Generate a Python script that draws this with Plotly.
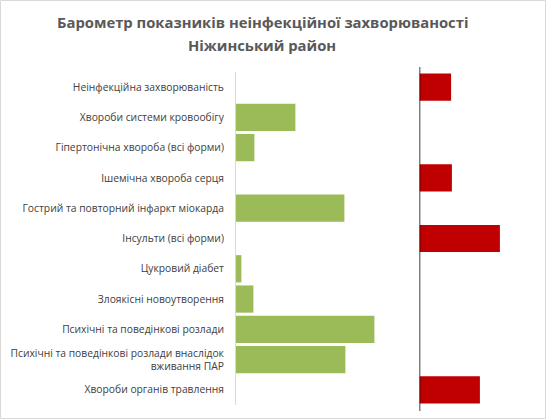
import plotly.graph_objects as go

categories = [
    "Неінфекційна захворюваність",
    "Хвороби системи кровообігу",
    "Гіпертонічна хвороба (всі форми)",
    "Ішемічна хвороба серця",
    "Гострий та повторний інфаркт міокарда",
    "Інсульти (всі форми)",
    "Цукровий діабет",
    "Злоякісні новоутворення",
    "Психічні та поведінкові розлади",
    "Психічні та поведінкові розлади внаслідок<br>вживання ПАР",
    "Хвороби органів травлення",
]
# green: below the regional level, red: above it
below_values = [None, 29.7, 9.2, None, 54.2, None, 2.7, 8.7, 69.2, 54.7, None]
above_values = [15.8, None, None, 16.2, None, 40.2, None, None, None, None, 30.2]
title_lines = ["Барометр показників неінфекційної захворюваності", "Ніжинський район"]

W, H = 546, 419
ML, MR, MT, MB = 236, 6, 72, 14
plot_w = W - ML - MR
plot_h = H - MT - MB
split = (419.5 - ML) / plot_w


def paper_y(py):
    # pixel row from the top of the page -> paper coordinate
    return (H - MB - py) / plot_h


fig = go.Figure()
fig.add_trace(go.Bar(
    y=categories, x=below_values, orientation="h",
    marker=dict(color="#9BBB59", line_width=0),
    xaxis="x", yaxis="y", showlegend=False, hoverinfo="skip",
))
fig.add_trace(go.Bar(
    y=categories, x=above_values, orientation="h",
    marker=dict(color="#C00000", line_width=0),
    xaxis="x2", yaxis="y", showlegend=False, hoverinfo="skip",
))

fig.update_layout(
    width=W, height=H,
    margin=dict(l=ML, r=MR, t=MT, b=MB),
    paper_bgcolor="white", plot_bgcolor="white",
    bargap=0.1,
    font=dict(family="Open Sans", color="#404040"),
    xaxis=dict(domain=[0, split], range=[0, plot_w * split / 2], visible=False),
    xaxis2=dict(domain=[split, 1], range=[0, plot_w * (1 - split) / 2], visible=False),
    yaxis=dict(
        autorange="reversed", showgrid=False, zeroline=False,
        showline=True, linecolor="#D9D9D9", linewidth=1,
        ticks="", ticklabelstandoff=9,
        tickfont=dict(family="Open Sans", size=10.3, color="#404040"),
    ),
)

for line, py in zip(title_lines, [22, 45]):
    fig.add_annotation(
        text=f"<b>{line}</b>", xref="paper", yref="paper",
        x=(262 - ML) / plot_w, y=paper_y(py),
        xanchor="center", yanchor="middle", showarrow=False,
        font=dict(family="Open Sans", size=14.8, color="#595959"),
    )

# vertical reference line at the zero of the right panel
fig.add_shape(
    type="line", xref="x2", yref="paper",
    x0=0, x1=0, y0=paper_y(411), y1=paper_y(67),
    line=dict(color="black", width=1.5),
)
# outer chart border
fig.add_shape(
    type="rect", xref="paper", yref="paper",
    x0=(0.5 - ML) / plot_w, x1=(W - 0.5 - ML) / plot_w,
    y0=paper_y(H - 0.5), y1=paper_y(0.5),
    line=dict(color="#D9D9D9", width=1),
)

fig.write_html(
    "out.html",
    config={"displayModeBar": False},
    post_script="document.body.style.margin='0';document.body.style.overflow='hidden';window.scrollTo(0,0);",
)
